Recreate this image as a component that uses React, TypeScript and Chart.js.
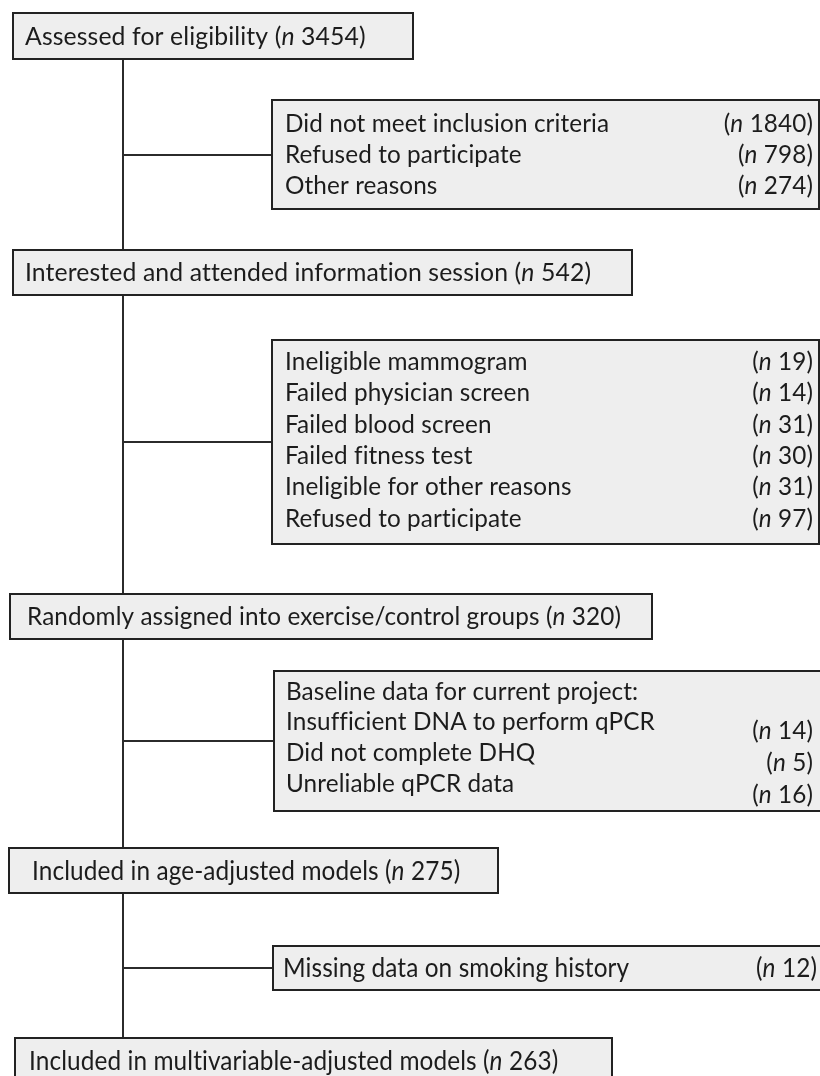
import React, { useEffect, useRef } from "react";
import { Chart, registerables } from "chart.js";

Chart.register(...registerables);

// ---------- data ----------
const mainSteps = [
  "Assessed for eligibility",
  "Interested and attended information session",
  "Randomly assigned into exercise/control groups",
  "Included in age-adjusted models",
  "Included in multivariable-adjusted models",
];
const mainCounts = [3454, 542, 320, 275, 263];

const excl1Labels = ["Did not meet inclusion criteria", "Refused to participate", "Other reasons"];
const excl1Counts = [1840, 798, 274];

const excl2Labels = [
  "Ineligible mammogram",
  "Failed physician screen",
  "Failed blood screen",
  "Failed fitness test",
  "Ineligible for other reasons",
  "Refused to participate",
];
const excl2Counts = [19, 14, 31, 30, 31, 97];

const excl3Header = "Baseline data for current project:";
const excl3Labels = ["Insufficient DNA to perform qPCR", "Did not complete DHQ", "Unreliable qPCR data"];
const excl3Counts = [14, 5, 16];

const excl4Labels = ["Missing data on smoking history"];
const excl4Counts = [12];

// ---------- layout (positions / styles) ----------
const W = 820;
const H = 1076;
const SPINE_X = 123;
const FONT = "Lato";
const FS = 24.3;
const FS_B = 26.5;
const SX_B = 0.92;
const SPACING = "0.1px";

const mainLayout = [
  { x0: 13, x1: 413, y0: 13, y1: 59, tx: 25, ty: 37, size: FS, sx: 1.02 },
  { x0: 13, x1: 632, y0: 250, y1: 295, tx: 25, ty: 273, size: FS, sx: 1.02 },
  { x0: 10, x1: 652, y0: 594, y1: 639, tx: 27, ty: 617, size: FS, sx: 1 },
  { x0: 9, x1: 498, y0: 848, y1: 893, tx: 32, ty: 871, size: FS_B, sx: SX_B },
  { x0: 15, x1: 612, y0: 1038, y1: 1100, tx: 29, ty: 1061, size: FS_B, sx: SX_B },
];

const sideLayout = [
  { x0: 272, x1: 819, y0: 100, y1: 209, tx: 285, rows: [124, 155, 186], countRows: [124, 155, 186], cx: 813, size: FS, sx: 1 },
  { x0: 272, x1: 819, y0: 340, y1: 544, tx: 285, rows: [362, 393, 425, 456, 487, 519], countRows: [362, 393, 425, 456, 487, 519], cx: 813, size: FS, sx: 1 },
  { x0: 274, x1: 823, y0: 671, y1: 811, tx: 286, rows: [692, 722, 753, 784], countRows: [731, 763, 795], cx: 813, size: FS, sx: 1 },
  { x0: 273, x1: 823, y0: 946, y1: 990, tx: 283, rows: [968], countRows: [968], cx: 817, size: FS_B, sx: SX_B },
];

const FILL = "#eeeeee";
const BORDER = "#222222";
const LINE = "#2b2b2b";
const TEXT = "#1c1c1c";

type Part = { t: string; italic?: boolean };

function countParts(n: number): Part[] {
  return [{ t: "(" }, { t: "n", italic: true }, { t: " " + n + ")" }];
}

function drawParts(
  ctx: CanvasRenderingContext2D,
  parts: Part[],
  x: number,
  y: number,
  align: "left" | "right",
  size: number,
  sx: number
) {
  const fontFor = (p: Part) => `${p.italic ? "italic " : ""}${size}px ${FONT}`;
  (ctx as any).letterSpacing = SPACING;
  let total = 0;
  for (const p of parts) {
    ctx.font = fontFor(p);
    total += ctx.measureText(p.t).width;
  }
  const start = align === "left" ? x : x - total * sx;
  ctx.save();
  ctx.translate(start, y);
  ctx.scale(sx, 1);
  ctx.fillStyle = TEXT;
  ctx.textBaseline = "middle";
  ctx.textAlign = "left";
  let cur = 0;
  for (const p of parts) {
    ctx.font = fontFor(p);
    ctx.fillText(p.t, cur, 0);
    cur += ctx.measureText(p.t).width;
  }
  ctx.restore();
  (ctx as any).letterSpacing = "0px";
}

const flowPlugin = {
  id: "flowchart",
  beforeDatasetsDraw(chart: any) {
    const ctx: CanvasRenderingContext2D = chart.ctx;
    const xs = chart.scales.x;
    const ys = chart.scales.y;
    const px = (v: number) => xs.getPixelForValue(v);
    const py = (v: number) => ys.getPixelForValue(v);

    ctx.save();
    // spine
    ctx.strokeStyle = LINE;
    ctx.lineWidth = 2;
    ctx.beginPath();
    ctx.moveTo(px(SPINE_X), py(mainLayout[0].y1));
    ctx.lineTo(px(SPINE_X), py(mainLayout[mainLayout.length - 1].y0));
    ctx.stroke();
    // connectors
    sideLayout.forEach((b) => {
      const ym = Math.round((b.y0 + b.y1) / 2);
      ctx.beginPath();
      ctx.moveTo(px(SPINE_X), py(ym));
      ctx.lineTo(px(b.x0), py(ym));
      ctx.stroke();
    });

    const drawBox = (b: { x0: number; x1: number; y0: number; y1: number }) => {
      const x = px(b.x0);
      const y = py(b.y0);
      const w = px(b.x1) - x;
      const h = py(b.y1) - y;
      ctx.fillStyle = FILL;
      ctx.fillRect(x, y, w, h);
      ctx.strokeStyle = BORDER;
      ctx.lineWidth = 2;
      ctx.strokeRect(x, y, w, h);
    };

    // main boxes
    mainLayout.forEach((b, i) => {
      drawBox(b);
      const parts: Part[] = [
        { t: mainSteps[i] + " (" },
        { t: "n", italic: true },
        { t: " " + mainCounts[i] + ")" },
      ];
      drawParts(ctx, parts, px(b.tx), py(b.ty), "left", b.size, b.sx);
    });

    // side boxes
    const sideData = [
      { labels: excl1Labels, counts: excl1Counts },
      { labels: excl2Labels, counts: excl2Counts },
      { labels: [excl3Header, ...excl3Labels], counts: excl3Counts },
      { labels: excl4Labels, counts: excl4Counts },
    ];
    sideLayout.forEach((b, i) => {
      drawBox(b);
      const d = sideData[i];
      d.labels.forEach((l, j) => {
        drawParts(ctx, [{ t: l }], px(b.tx), py(b.rows[j]), "left", b.size, b.sx);
      });
      d.counts.forEach((c, j) => {
        drawParts(ctx, countParts(c), px(b.cx), py(b.countRows[j]), "right", b.size, b.sx);
      });
    });
    ctx.restore();
  },
};

export default function App() {
  const ref = useRef<HTMLCanvasElement | null>(null);
  useEffect(() => {
    if (!ref.current) return;
    const chart = new Chart(ref.current, {
      type: "scatter",
      data: { datasets: [{ data: [], showLine: false }] },
      options: {
        responsive: false,
        animation: false,
        devicePixelRatio: 1,
        layout: { padding: 0 },
        events: [],
        scales: {
          x: { type: "linear", min: 0, max: W, display: false },
          y: { type: "linear", min: 0, max: H, reverse: true, display: false },
        },
        plugins: { legend: { display: false }, tooltip: { enabled: false } },
      },
      plugins: [flowPlugin],
    } as any);
    return () => chart.destroy();
  }, []);
  return (
    <div style={{ position: "absolute", left: 0, top: 0, width: W, height: H, background: "#fff" }}>
      <canvas ref={ref} width={W} height={H} style={{ display: "block" }} />
    </div>
  );
}
